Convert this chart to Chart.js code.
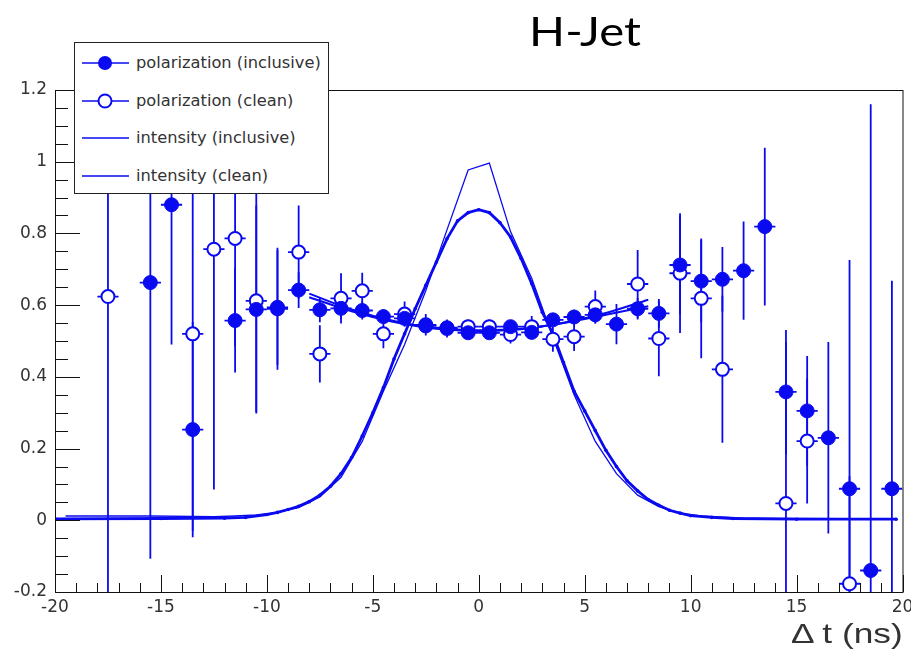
<!DOCTYPE html>
<html>
<head>
<meta charset="utf-8">
<script src="https://cdn.jsdelivr.net/npm/chart.js@4"></script>
<style>
  body { margin: 0; background: #fff; width: 911px; height: 651px; overflow: hidden; position: relative; }
  #c { position: absolute; left: 0; top: 0; }
  #title { position: absolute; left: 485px; width: 200px; top: 7px; text-align: center; font: 40px Lato, "Open Sans", sans-serif; color: #000; transform: scaleX(1.18); transform-origin: center; }
  #legend { position: absolute; left: 74px; top: 42px; width: 253px; height: 150px; border: 1px solid #222; background: #fff; font: 15.5px "DejaVu Sans", sans-serif; color: #333; }
  .row { position: absolute; left: 0; height: 20px; display: flex; align-items: center; white-space: nowrap; }
  .row svg { margin-left: 7px; margin-right: 7px; }
  .row span { display: inline-block; transform: scaleX(1.05); transform-origin: left center; }
  #xtitle { position: absolute; right: 8px; top: 618px; font: 28px "Liberation Sans", Arial, sans-serif; color: #333; transform: scaleX(1.26); transform-origin: right center; white-space: nowrap; }
</style>
</head>
<body>
<canvas id="c" width="911" height="651"></canvas>
<div id="title">H-Jet</div>
<div id="legend"></div>
<div id="xtitle">Δ t (ns)</div>
<script>
// H-Jet polarization / intensity vs Δt

const BLUE = '#0a0af0';

// axis ranges and tick labels
const xRange = [-20, 20];
const yRange = [-0.2, 1.2];
const xTickValues = [-20, -15, -10, -5, 0, 5, 10, 15, 20];
const yTickValues = [-0.2, 0, 0.2, 0.4, 0.6, 0.8, 1, 1.2];

// polarization (inclusive) — filled markers
const polInclX   = [-15.5, -14.5, -13.5, -11.5, -10.5, -9.5, -8.5, -7.5, -6.5, -5.5, -4.5, -3.5, -2.5, -1.5, -0.5, 0.5, 1.5, 2.5, 3.5, 4.5, 5.5, 6.5, 7.5, 8.5, 9.5, 10.5, 11.5, 12.5, 13.5, 14.5, 15.5, 16.5, 17.5, 18.5, 19.5];
const polInclY   = [0.663, 0.88, 0.253, 0.557, 0.588, 0.594, 0.642, 0.587, 0.591, 0.585, 0.568, 0.563, 0.542, 0.537, 0.523, 0.523, 0.54, 0.524, 0.559, 0.567, 0.573, 0.547, 0.59, 0.577, 0.712, 0.667, 0.672, 0.696, 0.819, 0.358, 0.305, 0.23, 0.088, -0.14, 0.088];
const polInclErr = [0.77, 0.39, 0.30, 0.145, 0.29, 0.16, 0.05, 0.035, 0.03, 0.025, 0.02, 0.015, 0.012, 0.01, 0.01, 0.01, 0.01, 0.012, 0.015, 0.02, 0.025, 0.056, 0.03, 0.04, 0.137, 0.115, 0.09, 0.137, 0.22, 0.173, 0.153, 0.267, 0.638, 1.30, 0.58];

// polarization (clean) — open markers
const polCleanX   = [-17.5, -13.5, -12.5, -11.5, -10.5, -9.5, -8.5, -7.5, -6.5, -5.5, -4.5, -3.5, -2.5, -1.5, -0.5, 0.5, 1.5, 2.5, 3.5, 4.5, 5.5, 7.5, 8.5, 9.5, 10.5, 11.5, 14.5, 15.5, 17.5];
const polCleanY   = [0.624, 0.52, 0.756, 0.786, 0.612, 0.59, 0.748, 0.464, 0.619, 0.64, 0.52, 0.575, 0.545, 0.535, 0.54, 0.54, 0.518, 0.54, 0.505, 0.512, 0.596, 0.659, 0.507, 0.689, 0.619, 0.421, 0.047, 0.221, -0.177];
const polCleanErr = [0.9, 0.55, 0.67, 0.3, 0.31, 0.17, 0.13, 0.08, 0.07, 0.05, 0.04, 0.035, 0.03, 0.025, 0.02, 0.02, 0.025, 0.03, 0.035, 0.04, 0.045, 0.095, 0.105, 0.167, 0.167, 0.205, 0.45, 0.174, 0.3];

// intensity (inclusive)
const intInclX = [-20, -15, -12, -11, -10, -9.5, -9, -8.5, -8, -7.5, -7, -6.5, -6, -5.5, -5, -4.5, -4, -3.5, -3, -2.5, -2, -1.5, -1, -0.5, 0, 0.5, 1, 1.5, 2, 2.5, 3, 3.5, 4, 4.5, 5, 5.5, 6, 6.5, 7, 7.5, 8, 8.5, 9, 9.5, 10, 11, 12, 15, 19.7];
const intInclY = [0.004, 0.005, 0.006, 0.008, 0.016, 0.022, 0.03, 0.039, 0.052, 0.07, 0.095, 0.13, 0.175, 0.235, 0.30, 0.37, 0.45, 0.52, 0.59, 0.655, 0.72, 0.785, 0.835, 0.858, 0.866, 0.858, 0.83, 0.79, 0.73, 0.66, 0.58, 0.52, 0.44, 0.36, 0.305, 0.25, 0.195, 0.15, 0.11, 0.082, 0.058, 0.042, 0.028, 0.02, 0.013, 0.008, 0.005, 0.003, 0.003];

// intensity (clean)
const intCleanX = [-19.5, -15.5, -12.5, -11.5, -10.5, -9.5, -8.5, -7.5, -6.5, -5.5, -4.5, -3.5, -2.5, -1.5, -0.5, 0.5, 1.5, 2.5, 3.5, 4.5, 5.5, 6.5, 7.5, 8.5, 9.5, 10.5, 12.5, 19.5];
const intCleanY = [0.012, 0.012, 0.01, 0.012, 0.015, 0.022, 0.035, 0.065, 0.12, 0.22, 0.36, 0.49, 0.64, 0.81, 0.977, 0.996, 0.805, 0.675, 0.51, 0.35, 0.22, 0.13, 0.07, 0.038, 0.02, 0.012, 0.006, 0.004];

// polarization fits
const fitX      = [-8, -6, -4, -2, 0, 2, 4, 6, 8];
const fitInclY  = [0.632, 0.588, 0.556, 0.536, 0.530, 0.534, 0.551, 0.578, 0.615];
const fitCleanY = [0.622, 0.583, 0.553, 0.534, 0.528, 0.533, 0.550, 0.573, 0.597];

const pts = (xs, ys) => xs.map((x, i) => ({ x: x, y: ys[i] }));

// error bars: vertical ±err, horizontal ±0.5 ns
const errorBars = {
  id: 'errorBars',
  beforeDatasetsDraw(chart) {
    const { ctx, chartArea: a, scales: { x, y } } = chart;
    ctx.save();
    ctx.beginPath();
    ctx.rect(a.left, a.top, a.right - a.left, a.bottom - a.top);
    ctx.clip();
    ctx.strokeStyle = BLUE;
    ctx.lineWidth = 1.8;
    [[polInclX, polInclY, polInclErr], [polCleanX, polCleanY, polCleanErr]].forEach(([xs, ys, es]) => {
      xs.forEach((xv, i) => {
        const px = x.getPixelForValue(xv);
        const py = y.getPixelForValue(ys[i]);
        ctx.beginPath();
        ctx.moveTo(px, y.getPixelForValue(ys[i] - es[i]));
        ctx.lineTo(px, y.getPixelForValue(ys[i] + es[i]));
        ctx.moveTo(x.getPixelForValue(xv - 0.5), py);
        ctx.lineTo(x.getPixelForValue(xv + 0.5), py);
        ctx.stroke();
      });
    });
    ctx.restore();
  }
};

// ROOT-style frame with inward ticks on left / bottom
const frame = {
  id: 'frame',
  afterDraw(chart) {
    const { ctx, chartArea: a, scales: { x, y } } = chart;
    ctx.save();
    ctx.strokeStyle = '#111';
    ctx.lineWidth = 1;
    ctx.strokeRect(a.left + 0.5, a.top + 0.5, a.right - a.left, a.bottom - a.top);
    ctx.beginPath();
    for (let v = xRange[0]; v <= xRange[1]; v += 1) {
      const px = Math.round(x.getPixelForValue(v)) + 0.5;
      const len = xTickValues.includes(v) ? 17 : 9;
      ctx.moveTo(px, a.bottom);
      ctx.lineTo(px, a.bottom - len);
    }
    for (let k = 0; k <= 28; k++) {
      const v = yRange[0] + k * 0.05;
      const py = Math.round(y.getPixelForValue(v)) + 0.5;
      const len = k % 4 === 0 ? 25 : 13;
      ctx.moveTo(a.left, py);
      ctx.lineTo(a.left + len, py);
    }
    ctx.stroke();
    ctx.restore();
  }
};

const tickFont = { family: '"DejaVu Sans", sans-serif', size: 17 };

new Chart(document.getElementById('c').getContext('2d'), {
  type: 'scatter',
  data: {
    datasets: [
      { label: 'polarization (inclusive)', data: pts(polInclX, polInclY), order: 0,
        pointRadius: 7, pointBackgroundColor: BLUE, pointBorderColor: BLUE, pointBorderWidth: 1, showLine: false },
      { label: 'polarization (clean)', data: pts(polCleanX, polCleanY), order: 1,
        pointRadius: 6.5, pointBackgroundColor: '#fff', pointBorderColor: BLUE, pointBorderWidth: 2, showLine: false },
      { label: 'fit (inclusive)', data: pts(fitX, fitInclY), order: 2, showLine: true,
        borderColor: BLUE, borderWidth: 2, pointRadius: 0, cubicInterpolationMode: 'monotone' },
      { label: 'fit (clean)', data: pts(fitX, fitCleanY), order: 3, showLine: true,
        borderColor: BLUE, borderWidth: 2, pointRadius: 0, cubicInterpolationMode: 'monotone' },
      { label: 'intensity (inclusive)', data: pts(intInclX, intInclY), order: 4, showLine: true,
        borderColor: BLUE, borderWidth: 2.8, pointRadius: 1.8, pointBackgroundColor: BLUE, pointBorderWidth: 0 },
      { label: 'intensity (clean)', data: pts(intCleanX, intCleanY), order: 5, showLine: true,
        borderColor: BLUE, borderWidth: 1.3, pointRadius: 0 },
    ]
  },
  options: {
    responsive: false,
    animation: false,
    layout: { padding: { left: 0, right: 8, top: 90, bottom: 0 } },
    plugins: { legend: { display: false }, tooltip: { enabled: false } },
    scales: {
      x: {
        type: 'linear', min: xRange[0], max: xRange[1],
        afterBuildTicks: s => { s.ticks = xTickValues.map(v => ({ value: v })); },
        afterFit: s => { s.height = 59; s.paddingLeft = 0; s.paddingRight = 0; },
        grid: { display: false, drawTicks: false },
        border: { display: false },
        ticks: { padding: 5, color: '#333', font: tickFont, maxRotation: 0, autoSkip: false, callback: v => String(v) }
      },
      y: {
        type: 'linear', min: yRange[0], max: yRange[1],
        afterBuildTicks: s => { s.ticks = yTickValues.map(v => ({ value: v })); },
        afterFit: s => { s.width = 55; s.paddingTop = 0; s.paddingBottom = 0; },
        grid: { display: false, drawTicks: false },
        border: { display: false },
        ticks: { padding: 8, color: '#333', font: tickFont, autoSkip: false, callback: v => String(Math.round(v * 10) / 10) }
      }
    }
  },
  plugins: [errorBars, frame]
});

// legend (ROOT TLegend look)
const legendItems = [
  { text: 'polarization (inclusive)', marker: 'filled' },
  { text: 'polarization (clean)',     marker: 'open' },
  { text: 'intensity (inclusive)',    marker: 'none' },
  { text: 'intensity (clean)',        marker: 'none' },
];
const legendRowY = [10, 48, 85, 123];
document.getElementById('legend').innerHTML = legendItems.map((it, i) => {
  let m = '';
  if (it.marker === 'filled') m = `<circle cx="23" cy="10" r="7" fill="${BLUE}"/>`;
  if (it.marker === 'open')   m = `<circle cx="23" cy="10" r="6.5" fill="#fff" stroke="${BLUE}" stroke-width="2"/>`;
  return `
    <div class="row" style="top:${legendRowY[i]}px">
      <svg width="47" height="20"><line x1="0" y1="10" x2="47" y2="10" stroke="${BLUE}" stroke-width="1.5"/>${m}</svg>
      <span>${it.text}</span>
    </div>`;
}).join('');
</script>
</body>
</html>
